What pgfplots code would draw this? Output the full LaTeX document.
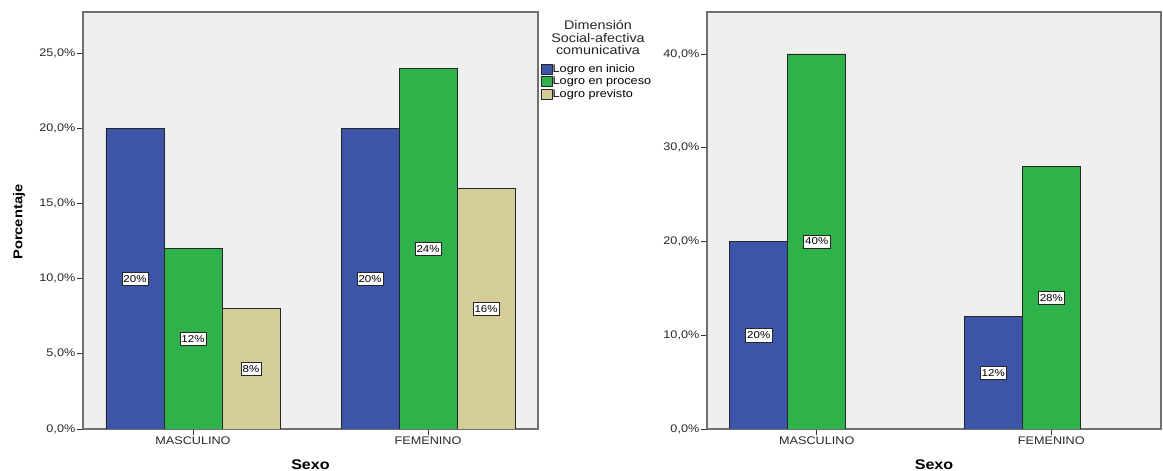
\documentclass[border=0pt]{standalone}
\usepackage{pgfplots}
\pgfplotsset{compat=1.18}
\usepackage{fontspec}
\setmainfont{Liberation Sans}[FakeStretch=1.15]
\definecolor{cblue}{HTML}{3D55A8}
\definecolor{cgreen}{HTML}{2EB34A}
\definecolor{ctan}{HTML}{D4CD98}
\definecolor{cbg}{HTML}{EFEFEF}
\definecolor{cframe}{HTML}{707070}
\pgfplotsset{
  spss/.style={
    scale only axis, width=455pt, height=417pt, anchor=south west,
    axis background/.style={fill=cbg},
    axis line style={cframe, line width=1.2pt},
    xmin=-0.468, xmax=1.468, ymin=0,
    xtick={0,1}, xticklabels={MASCULINO,FEMENINO},
    tick align=outside, major tick length=6pt,
    tick style={black!80, line width=0.8pt},
    xtick pos=bottom, ytick pos=left,
    /pgf/number format/assume math mode=true,
    ticklabel style={font=\fontsize{11}{12}\selectfont, text=black!85},
    yticklabel style={inner sep=1.5pt},
    xticklabel style={inner sep=2pt},
    xlabel={Sexo},
    every axis x label/.style={at={(rel axis cs:0.5,0)}, yshift=-36pt, anchor=center, font=\fontsize{14}{16}\selectfont\bfseries},
    ybar, bar width=58pt,
    every axis plot/.append style={draw=black!85, line width=0.6pt},
    nodes near coords={\pgfmathprintnumber{\pgfplotspointmeta}\%},
    visualization depends on=rawy\as\rawy,
  }
}
\begin{document}
\begin{tikzpicture}
\useasboundingbox (0,0) rectangle (1163pt,471pt);
% left chart
\begin{axis}[spss, at={(83pt,42pt)},
  ymax=27.73,
  ytick={0,5,10,15,20,25},
  yticklabels={{0,0\%},{5,0\%},{10,0\%},{15,0\%},{20,0\%},{25,0\%}},
  ylabel={Porcentaje},
  every axis y label/.style={at={(rel axis cs:0,0.496)}, xshift=-64pt, rotate=90, anchor=center, font=\fontsize{12.8}{14}\selectfont\bfseries},
  every node near coord/.append style={anchor=center, fill=white, draw=black!85, line width=0.5pt, inner xsep=1.5pt, inner ysep=3pt, font=\fontsize{10}{10}\selectfont, text=black, yshift=-\rawy*7.52pt},
  legend style={draw=none, fill=none, at={(rel axis cs:1,0.8765)}, xshift=3pt, anchor=north west, font=\fontsize{11}{12}\selectfont, inner sep=0pt, row sep=1.5pt, nodes={inner sep=0pt, text height=8.5pt, text depth=2.5pt, anchor=west}, /tikz/every even column/.append style={column sep=3pt}},
  legend cell align=left,
  legend image code/.code={\draw[#1, draw=black!85, line width=0.5pt] (0pt,-5pt) rectangle (11pt,5pt);},
]
\addplot[fill=cblue, bar shift=-58pt] coordinates {(0,20) (1,20)};
\addplot[fill=cgreen, bar shift=0pt] coordinates {(0,12) (1,24)};
\addplot[fill=ctan, bar shift=58pt] coordinates {(0,8) (1,16)};
\legend{Logro en inicio, Logro en proceso, Logro previsto}
\end{axis}
\node[align=center, font=\fontsize{12.5}{12.5}\selectfont, text=black!85] at (598pt,433.5pt) {Dimensión\\Social-afectiva\\comunicativa};
% right chart
\begin{axis}[spss, at={(707pt,42pt)}, width=454pt,
  ymax=44.48,
  ytick={0,10,20,30,40},
  yticklabels={{0,0\%},{10,0\%},{20,0\%},{30,0\%},{40,0\%}},
  every node near coord/.append style={anchor=center, fill=white, draw=black!85, line width=0.5pt, inner xsep=1.5pt, inner ysep=3pt, font=\fontsize{10}{10}\selectfont, text=black, yshift=-\rawy*4.6875pt},
]
\addplot[fill=cblue, bar shift=-58pt] coordinates {(0,20) (1,12)};
\addplot[fill=cgreen, bar shift=0pt] coordinates {(0,40) (1,28)};
\end{axis}
\end{tikzpicture}
\end{document}
